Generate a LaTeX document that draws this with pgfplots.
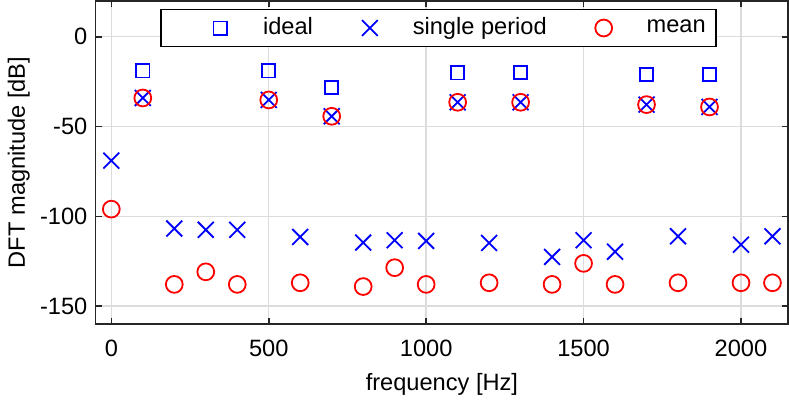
\documentclass[border=0pt]{standalone}
\usepackage{fontspec}
\setmainfont{Liberation Sans}
\usepackage{pgfplots}
\pgfplotsset{compat=1.18}
\definecolor{axgray}{RGB}{38,38,38}
\definecolor{gridgray}{RGB}{220,220,220}
\begin{document}
\fontsize{11.8}{14}\selectfont
\begin{tikzpicture}
\begin{axis}[
  scale only axis,
  width=346pt, height=161.5pt,
  xmin=-50, xmax=2150, ymin=-160, ymax=20,
  xtick={0,500,...,2000}, ytick={-150,-100,-50,0},
  tick align=inside, tick pos=both,
  major tick length=3pt,
  grid=major, major grid style={gridgray, line width=0.7pt},
  axis line style={axgray, line width=0.8pt},
  tick style={axgray, line width=0.8pt},
  /pgf/number format/assume math mode=true,
  /pgf/number format/1000 sep={},
  xticklabel style={yshift=-4pt},
  xlabel={frequency [Hz]}, ylabel={DFT magnitude [dB]},
  ylabel shift=-3pt,
  legend columns=3,
  legend style={at={(0.495,0.975)}, anchor=north, draw=black, line width=0.8pt,
    cells={anchor=west}},
  legend image code/.code={\path (-26pt,0pt) (19pt,0pt); \draw[#1] plot coordinates {(0pt,0pt)};},
]
\addplot[only marks, mark=square, mark size=3.3pt, blue, line width=0.9pt] coordinates {
(100,-19) (500,-19) (700,-28.3) (1100,-20.1) (1300,-20) (1700,-21.2) (1900,-21.1)};
\addlegendentry{ideal}
\addplot[only marks, mark=x, mark size=5.6pt, blue, line width=0.9pt] coordinates {
(0,-69) (100,-34.1) (200,-106.8) (300,-107.5) (400,-107.5) (500,-35.2) (600,-111.5)
(700,-44.3) (800,-114.6) (900,-113.3) (1000,-113.7) (1100,-36.5) (1200,-114.8)
(1300,-36.5) (1400,-122.6) (1500,-113.3) (1600,-119.7) (1700,-37.8) (1800,-111.1)
(1900,-39.1) (2000,-115.8) (2100,-111.1)};
\addlegendentry{single period}
\addplot[only marks, mark=o, mark size=4.2pt, red, line width=0.9pt] coordinates {
(0,-96) (100,-34.1) (200,-137.9) (300,-130.9) (400,-137.9) (500,-35.2) (600,-137)
(700,-44.3) (800,-139.1) (900,-128.6) (1000,-137.9) (1100,-36.5) (1200,-137)
(1300,-36.5) (1400,-137.9) (1500,-126.2) (1600,-137.9) (1700,-37.8) (1800,-137)
(1900,-39.1) (2000,-137) (2100,-137)};
\addlegendentry{mean}
\end{axis}
\end{tikzpicture}
\end{document}
